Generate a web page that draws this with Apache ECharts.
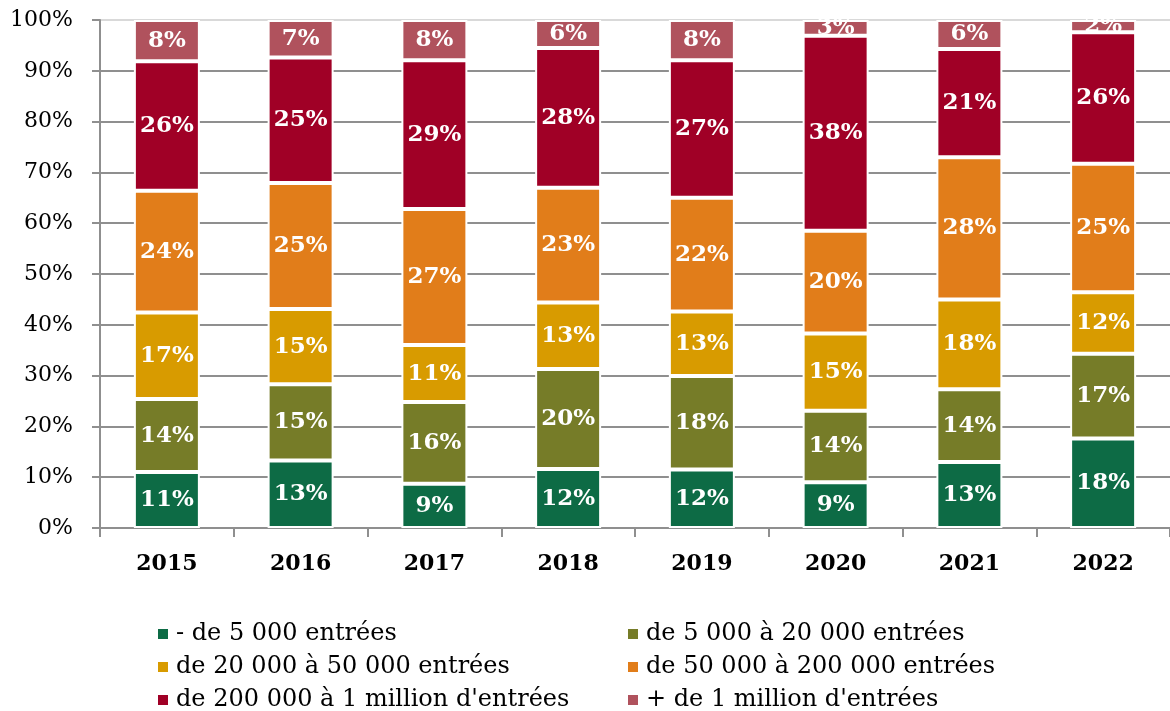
<!DOCTYPE html>
<html>
<head>
<meta charset="utf-8">
<script src="https://cdn.jsdelivr.net/npm/echarts@6/dist/echarts.min.js"></script>
<style>
  html, body { margin: 0; padding: 0; background: #fff; }
  #main { width: 1170px; height: 711px; }
</style>
</head>
<body>
<div id="main"></div>
<script>
// categories and series (share of cinemas by yearly admissions, %)
var years = ['2015', '2016', '2017', '2018', '2019', '2020', '2021', '2022'];
var seriesNames = [
    '- de 5 000 entrées',
    'de 5 000 à 20 000 entrées',
    'de 20 000 à 50 000 entrées',
    'de 50 000 à 200 000 entrées',
    'de 200 000 à 1 million d\'entrées',
    '+ de 1 million d\'entrées'
];
var moins5k    = [11.0, 13.3,  8.7, 11.6, 11.5,  9.0, 13.0, 17.6];
var de5kA20k   = [14.4, 15.0, 16.1, 19.7, 18.4, 14.1, 14.3, 16.7];
var de20kA50k  = [17.0, 14.8, 11.2, 13.1, 12.7, 15.2, 17.7, 12.1];
var de50kA200k = [24.0, 24.8, 26.8, 22.6, 22.4, 20.2, 28.0, 25.3];
var de200kA1M  = [25.5, 24.7, 29.3, 27.5, 27.1, 38.4, 21.3, 25.9];
var plus1M     = [ 8.1,  7.4,  7.9,  5.5,  7.9,  3.1,  5.7,  2.4];
var yTicks = [0, 10, 20, 30, 40, 50, 60, 70, 80, 90, 100];

var colors = ['#0d6b45', '#767c28', '#d89b00', '#e17d1a', '#a00026', '#b0525d'];
var allData = [moins5k, de5kA20k, de20kA50k, de50kA200k, de200kA1M, plus1M];

var myChart = echarts.init(document.getElementById('main'));

var font = 'DejaVu Serif';

var series = allData.map(function (d, i) {
    return {
        name: seriesNames[i],
        type: 'bar',
        stack: 'total',
        barWidth: 66,
        data: d,
        itemStyle: {
            color: colors[i],
            borderColor: '#ffffff',
            borderWidth: 2
        },
        label: {
            show: true,
            position: 'inside',
            color: '#ffffff',
            fontFamily: font,
            fontWeight: 'bold',
            fontSize: 23,
            formatter: function (p) { return Math.round(p.value) + '%'; }
        }
    };
});

// grid line colours: all dark grey except the 100% line
var gridColors = yTicks.map(function (t) { return t === 100 ? '#d9d9d9' : '#8f8f8f'; });

// one legend per item, laid out in two columns of three rows
var legendLeft = [151, 621];
var legendTop = [616, 649, 682];
var legends = seriesNames.map(function (name, i) {
    return {
        left: legendLeft[i % 2],
        top: legendTop[Math.floor(i / 2)],
        itemWidth: 12,
        itemHeight: 12,
        icon: 'rect',
        selectedMode: false,
        textStyle: {
            fontFamily: font,
            fontSize: 24,
            color: '#000',
            lineHeight: 26,
            padding: [0, 0, 0, 2]
        },
        data: [name]
    };
});

var option = {
    animation: false,
    color: colors,
    grid: {
        left: 100,
        top: 20,
        right: -2,
        bottom: 183,
        containLabel: false
    },
    legend: legends,
    xAxis: {
        type: 'category',
        data: years,
        axisLine: { lineStyle: { color: '#8f8f8f', width: 2 } },
        axisTick: { show: true, length: 9, lineStyle: { color: '#8f8f8f', width: 2 } },
        axisLabel: {
            color: '#000',
            fontFamily: font,
            fontWeight: 'bold',
            fontSize: 22,
            margin: 25
        }
    },
    yAxis: {
        type: 'value',
        min: 0,
        max: 100,
        interval: 10,
        axisLine: { show: true, lineStyle: { color: '#8f8f8f', width: 2 } },
        axisTick: { show: true, length: 8, lineStyle: { color: '#8f8f8f', width: 2 } },
        splitLine: { lineStyle: { color: gridColors, width: 2 } },
        axisLabel: {
            color: '#000',
            fontFamily: font,
            fontSize: 22,
            margin: 27,
            formatter: '{value}%'
        }
    },
    series: series
};

myChart.setOption(option);
</script>
</body>
</html>
